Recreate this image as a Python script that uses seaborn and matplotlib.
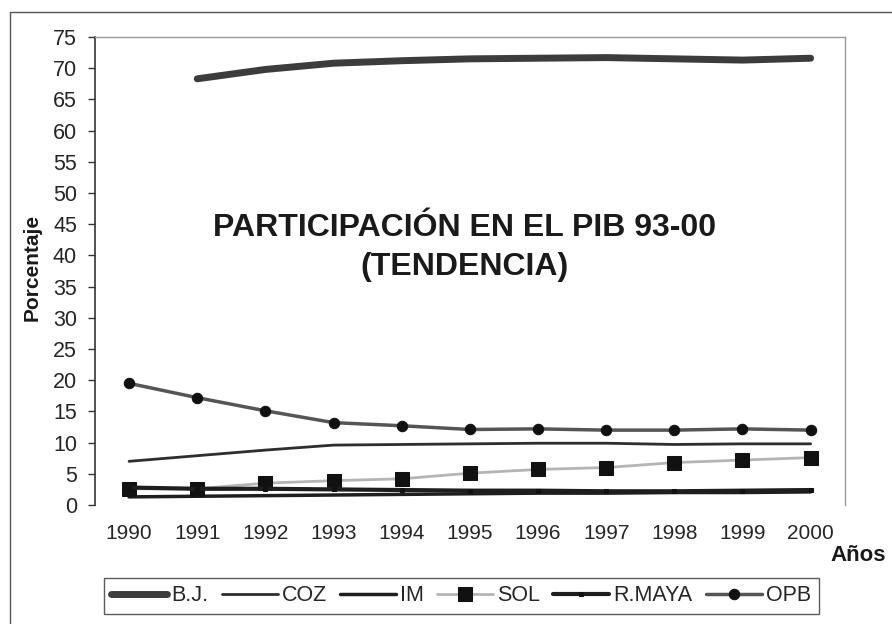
import numpy as np
import pandas as pd
import matplotlib.pyplot as plt
from matplotlib.lines import Line2D
import seaborn as sns

# datos
years = list(range(1990, 2001))
bj = [np.nan, 68.3, 69.8, 70.8, 71.2, 71.5, 71.6, 71.7, 71.5, 71.3, 71.6]
coz = [7.0, 7.9, 8.8, 9.6, 9.7, 9.8, 9.9, 9.9, 9.7, 9.8, 9.8]
im = [1.3, 1.4, 1.5, 1.6, 1.7, 1.8, 1.9, 1.9, 2.0, 2.0, 2.1]
sol = [2.6, 2.6, 3.5, 3.9, 4.2, 5.1, 5.7, 6.0, 6.8, 7.2, 7.6]
rmaya = [2.8, 2.6, 2.6, 2.5, 2.4, 2.3, 2.3, 2.2, 2.2, 2.3, 2.4]
opb = [19.5, 17.2, 15.1, 13.2, 12.7, 12.1, 12.2, 12.0, 12.0, 12.2, 12.0]

series = {'B.J.': bj, 'COZ': coz, 'IM': im, 'SOL': sol, 'R.MAYA': rmaya, 'OPB': opb}

# estilo de cada serie
estilos = {
    'B.J.': dict(color='#3c3c3c', lw=5.0),
    'COZ': dict(color='#2e2e2e', lw=2.0),
    'IM': dict(color='#1e1e1e', lw=2.5),
    'SOL': dict(color='#b4b4b4', lw=2.0, marker='s', markersize=10,
                markerfacecolor='#111111', markeredgecolor='#111111'),
    'R.MAYA': dict(color='#1e1e1e', lw=3.0, marker='s', markersize=3.5,
                   markerfacecolor='#111111', markeredgecolor='#111111'),
    'OPB': dict(color='#555555', lw=2.5, marker='o', markersize=7.5,
                markerfacecolor='#111111', markeredgecolor='#111111'),
}

sns.set_style("white")
plt.rcParams['font.family'] = ['Liberation Sans', 'DejaVu Sans']

fig = plt.figure(figsize=(8.92, 6.24), dpi=100)
ax = fig.add_axes([0.1065, 0.1907, 0.8405, 0.75])

for nombre, valores in series.items():
    df = pd.DataFrame({'anio': years, 'valor': valores}).dropna()
    sns.lineplot(data=df, x='anio', y='valor', ax=ax, label=nombre, **estilos[nombre])

ax.set_xlim(1989.5, 2000.5)
ax.set_ylim(0, 75)
ax.set_yticks(range(0, 80, 5))
ax.set_xticks(years)
ax.set_xlabel('')
ax.set_ylabel('')
ax.tick_params(axis='y', direction='out', length=5, width=1, color='#333333',
               labelsize=15.5, pad=8, left=True)
ax.tick_params(axis='x', length=0, labelsize=15, pad=14)

for lado in ['top', 'right', 'bottom']:
    ax.spines[lado].set_color('#9a9a9a')
    ax.spines[lado].set_linewidth(1.0)
ax.spines['bottom'].set_visible(False)
ax.spines['left'].set_color('#333333')
ax.spines['left'].set_linewidth(1.2)
ax.grid(False)

# titulo dentro del grafico
ax.text(0.493, 0.551, 'PARTICIPACIÓN EN EL PIB 93-00\n(TENDENCIA)', transform=ax.transAxes,
        ha='center', va='center', fontsize=23, fontweight='bold', color='#1a1a1a',
        linespacing=1.38)

fig.text(0.036, 0.571, 'Porcentaje', rotation=90, ha='center', va='center',
         fontsize=15, fontweight='bold', color='#1a1a1a')
fig.text(0.962, 0.11, 'Años', ha='center', va='center',
         fontsize=16, fontweight='bold', color='#1a1a1a')

# leyenda inferior
handles, labels = ax.get_legend_handles_labels()
ax.get_legend().remove()
leg = fig.legend(handles, labels, loc='center', bbox_to_anchor=(0.517, 0.045), ncol=6,
                 frameon=True, fancybox=False, fontsize=15.5, handlelength=2.6,
                 handletextpad=0.2, columnspacing=0.6, borderpad=0.35)
leg.get_frame().set_edgecolor('#333333')
leg.get_frame().set_linewidth(1.0)

# marco exterior escaneado
fig.add_artist(Line2D([0.011, 0.011], [0.0, 0.981], color='#555555', lw=1.0))
fig.add_artist(Line2D([0.011, 1.0], [0.981, 0.981], color='#555555', lw=1.0))

fig.savefig('out.png', dpi=100, facecolor='white')
